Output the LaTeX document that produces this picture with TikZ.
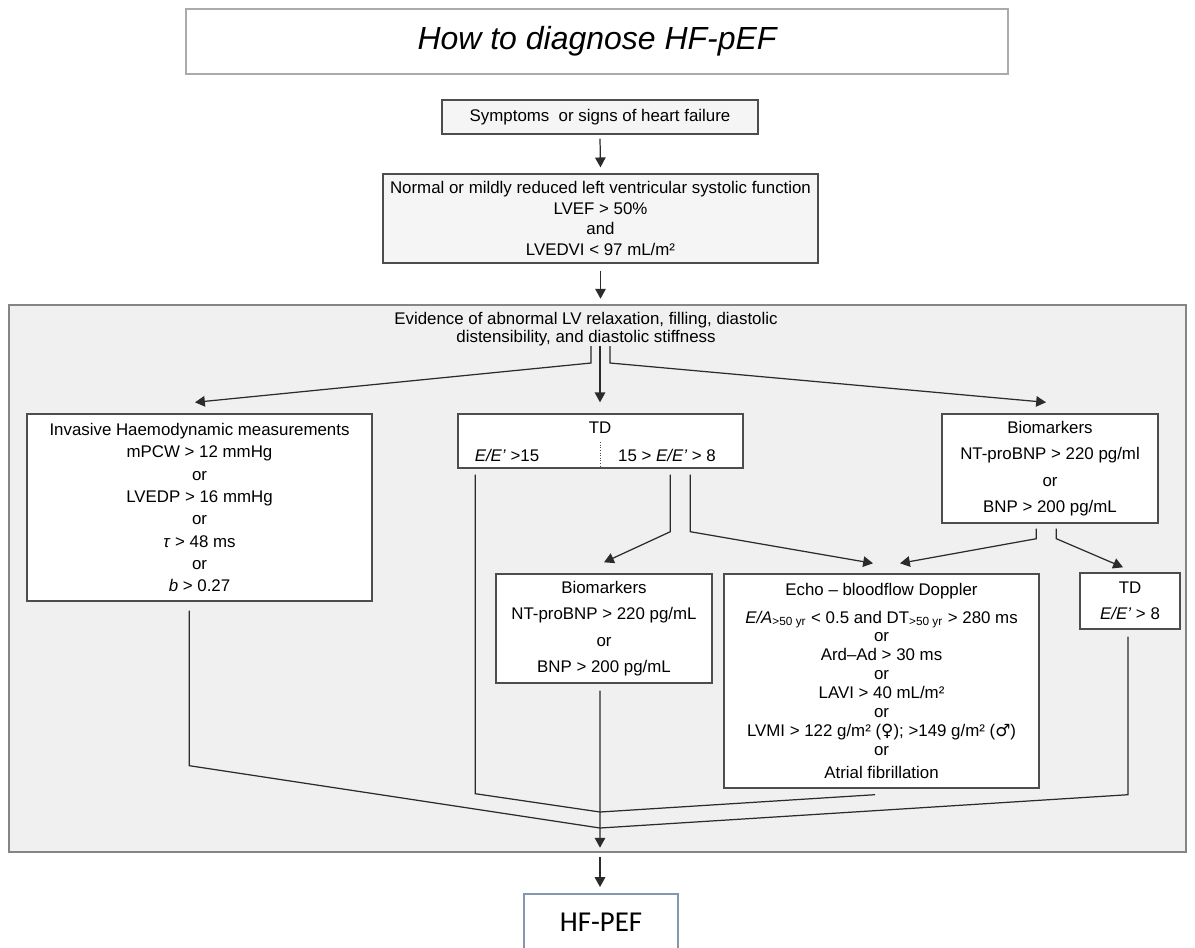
\documentclass[tikz,border=0pt]{standalone}
\usepackage{fontspec}
\setmainfont{Liberation Sans}
\newfontfamily\calfont{Carlito}
\newfontfamily\symfont{DejaVu Sans}
\usetikzlibrary{arrows.meta,calc}

\definecolor{boxline}{HTML}{4D4D4D}
\definecolor{panelfill}{HTML}{F0F0F0}
\definecolor{panelline}{HTML}{858585}
\definecolor{titleline}{HTML}{ABABAB}
\definecolor{hfline}{HTML}{8496B0}
\definecolor{wirecol}{HTML}{2B2B2B}

\tikzset{
    box/.style={draw=boxline, line width=0.8pt, fill=white, inner sep=2pt, align=center},
    greybox/.style={box, fill=gray!8},
    txt/.style={font=\fontsize{9.6}{#1}\selectfont},
    wire/.style={draw=wirecol, line width=0.7pt},
    arrow/.style={wire, -{Triangle[length=5.6pt,width=6pt]}},
}

\begin{document}
\begin{tikzpicture}[x=0.02cm, y=-0.02cm]
        \useasboundingbox (0, 0) rectangle (1195, 947);
        % title and the two top boxes
        \node (title) at (597, 41.5)[draw=titleline, line width=1.2pt, minimum width=16.44cm, minimum height=1.3cm, font=\fontsize{18.2}{20}\selectfont\itshape]{How to diagnose HF-pEF};
        \node (sym) at (600, 117)[greybox, txt=12, minimum width=6.32cm, minimum height=0.68cm]{Symptoms\ \ or signs of heart failure};
        \node (norm) at (600.5, 218.5)[greybox, txt=11.7, minimum width=8.7cm, minimum height=1.78cm]{Normal or mildly reduced left ventricular systolic function\\ LVEF > 50\%\\ and\\ LVEDVI < 97 mL/m²};
        \draw[arrow] ($(sym.south)+(0, 4)$) -- ($(norm.north)+(0, -6)$);
        \draw[arrow] ($(norm.south)+(0, 7)$) -- ++(0, 28);
        % grey panel
        \node (panel) at (597.5, 578.5)[draw=panelline, fill=panelfill, line width=0.8pt, minimum width=23.54cm, minimum height=10.94cm]{};
        \node (ev) at (586, 329)[txt=10.2, align=center]{Evidence of abnormal LV relaxation, filling, diastolic\\ distensibility, and diastolic stiffness};
        % first row
        \node (inv) at (199.5, 507.5)[box, txt=12.7, minimum width=6.9cm, minimum height=3.74cm]{Invasive Haemodynamic measurements\\ mPCW > 12 mmHg\\ or\\ LVEDP > 16 mmHg\\ or\\ \textit{τ} > 48 ms\\ or\\ \textit{b} > 0.27};
        \node (td) at (600.5, 441)[box, minimum width=5.7cm, minimum height=1.08cm]{};
        \node (tdtitle) at (600, 428)[txt=12]{TD};
        \node (tdhigh) at (507, 455)[txt=12]{\textit{E/E'} >15};
        \node (tdmid) at (667, 455)[txt=12]{15 > \textit{E/E'} > 8};
        \draw[densely dotted, draw=boxline, line width=0.5pt] (tdtitle.south) ++(0, 2) -- ($(td.south)+(-0.5, -1)$);
        \node (bioR) at (1050, 468.5)[box, txt=15, minimum width=4.32cm, minimum height=2.18cm]{Biomarkers\\ NT-proBNP > 220 pg/ml\\ or\\ BNP > 200 pg/mL};
        % second row
        \node (bioM) at (604, 628.5)[box, txt=15, minimum width=4.32cm, minimum height=2.18cm]{Biomarkers\\ NT-proBNP > 220 pg/mL\\ or\\ BNP > 200 pg/mL};
        \node (echo) at (881.5, 681)[box, txt=10.8, minimum width=6.3cm, minimum height=4.28cm]{Echo – bloodflow Doppler\\[5pt] \textit{E/A}\textsubscript{>50 yr} < 0.5 and DT\textsubscript{>50 yr} > 280 ms\\ or\\ Ard–Ad > 30 ms\\ or\\ LAVI > 40 mL/m²\\ or\\ LVMI > 122 g/m² ({\symfont ♀}); >149 g/m² ({\symfont ♂})\\ or\\[2.3pt] Atrial fibrillation};
        \node (tdR) at (1130, 601)[box, txt=14.7, minimum width=2cm, minimum height=1.12cm]{TD\\ \textit{E/E'} > 8};
        % result
        \node (hf) at (601, 922.5)[draw=hfline, line width=1.1pt, fill=white, minimum width=3.08cm, minimum height=1.14cm, font=\fontsize{16.4}{18}\selectfont\calfont]{HF-PEF};
        % split below the evidence text
        \coordinate (splitL) at (591, 346);
        \coordinate (split) at (600, 346);
        \coordinate (splitR) at (610, 346);
        \draw[arrow] (splitL) -- ++(0, 17) -- ($(inv.north)+(-4.5, -11)$);
        \draw[arrow] (split) -- ($(td.north)+(-0.5, -11)$);
        \draw[arrow] (splitR) -- ++(0, 17) -- ($(bioR.north)+(-4, -11)$);
        % from the TD box and the biomarkers
        \coordinate (merge1) at (600, 812);
        \coordinate (merge2) at (600, 828);
        \draw[arrow] ($(td.south west)+(213, 6)$) -- ++(0, 57) -- ($(bioM.north)+(0, -11)$);
        \draw[arrow] ($(td.south west)+(233, 6)$) -- ++(0, 57) -- ($(echo.north)+(-8.5, -10)$);
        \draw[arrow] ($(bioR.south west)+(95, 5)$) -- ++(0, 10) -- ($(echo.north)+(18.5, -10)$);
        \draw[arrow] ($(bioR.south west)+(115, 5)$) -- ++(0, 10) -- ($(tdR.north)+(-7, -5)$);
        % to the merge points
        \draw[wire] ($(td.south west)+(18, 6)$) -- ++(0, 319) -- (merge1);
        \draw[wire] ($(echo.south)+(-6.5, 6)$) -- (merge1);
        \draw[wire] ($(inv.south west)+(163, 9)$) -- ++(0, 155) -- (merge2);
        \draw[wire] ($(tdR.south)+(-2, 7)$) -- ++(0, 158) -- (merge2);
        \draw[arrow] ($(bioM.south)+(-4, 7)$) -- ($(panel.south)+(2.5, -5)$);
        \draw[arrow] ($(hf.north)+(-1, -36)$) -- ($(hf.north)+(-1, -6)$);
    \end{tikzpicture}
\end{document}
